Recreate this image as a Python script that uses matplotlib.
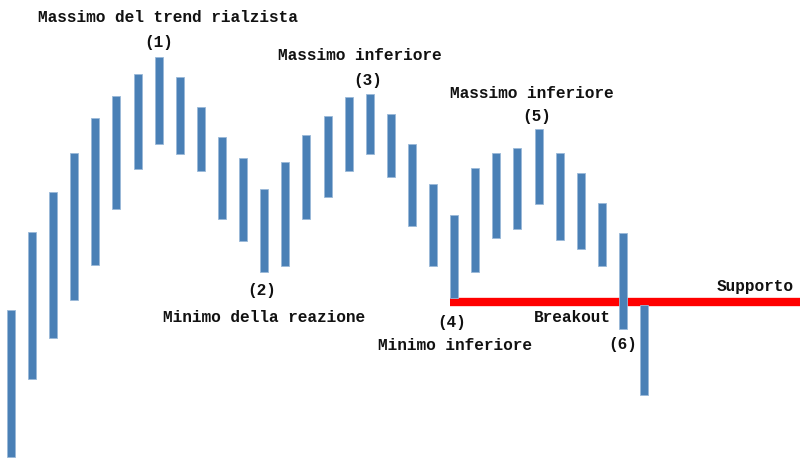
import matplotlib
matplotlib.use("Agg")
import matplotlib.pyplot as plt
import numpy as np

# price bars (high / low)
highs = [157, 235, 275, 314, 349, 371, 393, 410, 390, 360, 330, 309, 278, 305, 332,
         351, 370, 373, 353, 323, 283, 252, 299, 314, 319, 338, 314, 294, 264, 234, 162]
lows = [10, 88, 129, 167, 202, 258, 298, 323, 313, 296, 248, 226, 195, 201, 248,
        270, 296, 313, 290, 241, 201, 169, 195, 229, 238, 263, 227, 218, 201, 138, 72]
support = 165

# annotations: (text, x, y)
labels = [
    ("Massimo del trend rialzista", 7.45, 449),
    ("(1)", 7.0, 424),
    ("Massimo inferiore", 16.54, 412),
    ("(3)", 16.92, 387),
    ("Massimo inferiore", 24.69, 374),
    ("(5)", 24.93, 350),
    ("(2)", 11.9, 176),
    ("Minimo della reazione", 11.99, 149),
    ("(4)", 20.9, 145),
    ("Minimo inferiore", 21.04, 121),
    ("Breakout", 26.59, 149),
    ("(6)", 29.0, 122),
    ("Supporto", 35.26, 180),
]

fig = plt.figure(figsize=(8, 4.67), dpi=100)
ax = fig.add_axes([0, 0, 1, 1])

x = np.arange(len(highs))
h = np.array(highs)
l = np.array(lows)
ax.bar(x, h - l, bottom=l, width=0.38, color="#4a80b6", edgecolor="#9ab9d8",
       linewidth=0.6, zorder=3)

# support line sits under the bars
ax.hlines(support, 21 - 0.19, 40, color="#ff0000", linewidth=6, zorder=2)

for txt, tx, ty in labels:
    ax.text(tx, ty, txt, ha="center", va="center", fontsize=11.6,
            family="Liberation Mono", fontweight="bold", color="#111111")

ax.set_xlim(-0.52, 37.39)
ax.set_ylim(0, 467)
ax.axis("off")

fig.savefig("out.png", dpi=100, facecolor="white")
